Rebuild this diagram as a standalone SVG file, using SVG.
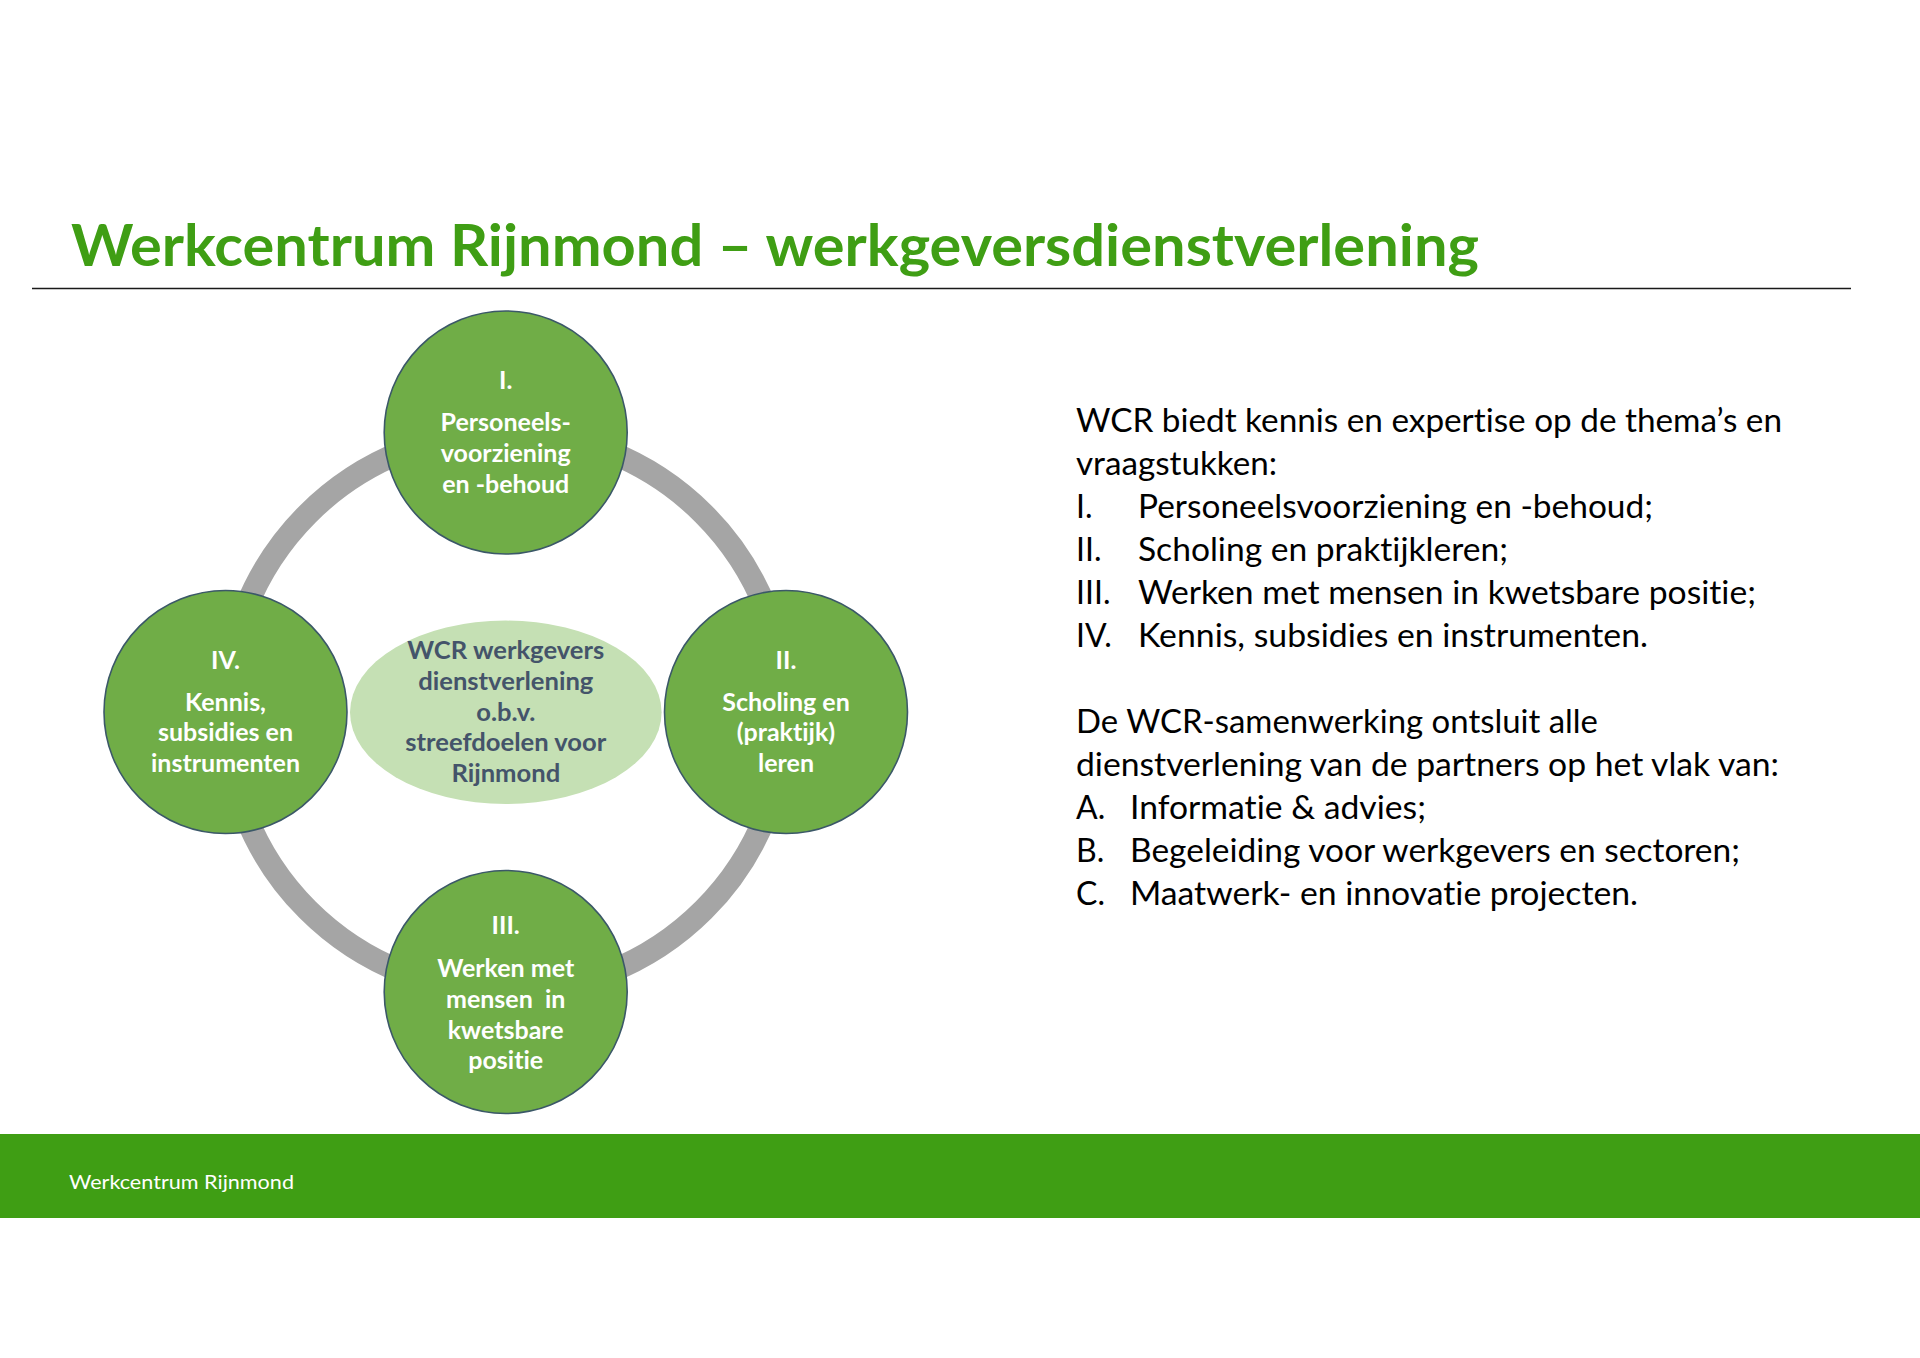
<svg xmlns="http://www.w3.org/2000/svg" width="1920" height="1358" viewBox="0 0 1920 1358">
<style>
text{font-variant-ligatures:none;font-feature-settings:"liga" 0,"clig" 0,"dlig" 0,"calt" 0}
.title{font-family:Lato,"Liberation Sans",sans-serif;font-weight:700;font-size:57px;fill:#3f9e14}
.node circle{fill:#70ad47;stroke:#3b5868;stroke-width:1.6}
.nt{font-family:Lato,"Liberation Sans",sans-serif;font-weight:700;font-size:25px;fill:#ffffff;text-anchor:middle}
.ct{font-family:Lato,"Liberation Sans",sans-serif;font-weight:700;font-size:25.6px;fill:#44546a;text-anchor:middle}
.body{font-family:Lato,"Liberation Sans",sans-serif;font-size:32px;fill:#000000}
.foot{font-family:Lato,"Liberation Sans",sans-serif;font-size:20px;fill:#ffffff}
</style>
<rect x="0" y="0" width="1920" height="1358" fill="#ffffff"/>
<text class="title" x="71" y="266" textLength="1408" lengthAdjust="spacingAndGlyphs">Werkcentrum Rijnmond – werkgeversdienstverlening</text>
<line x1="32" y1="288.5" x2="1851" y2="288.5" stroke="#1a1a1a" stroke-width="1.6"/>

<g id="connectors">
<circle cx="505.7" cy="712" r="280" fill="none" stroke="#a5a5a5" stroke-width="23"/>
</g>

<g id="center">
<ellipse cx="505.8" cy="712.3" rx="155.8" ry="91.7" fill="#c5e0b4"/>
<text class="ct" x="505.8" y="659.3">WCR werkgevers</text>
<text class="ct" x="505.8" y="690">dienstverlening</text>
<text class="ct" x="505.8" y="720.7">o.b.v.</text>
<text class="ct" x="505.8" y="751">streefdoelen voor</text>
<text class="ct" x="505.8" y="781.5">Rijnmond</text>
</g>

<g id="node-I" class="node">
<circle cx="505.7" cy="432.5" r="121.5"/>
<text class="nt" x="505.7" y="389">I.</text>
<text class="nt" x="505.7" y="431.3">Personeels-</text>
<text class="nt" x="505.7" y="462">voorziening</text>
<text class="nt" x="505.7" y="492.5">en -behoud</text>
</g>

<g id="node-II" class="node">
<circle cx="786" cy="712" r="121.5"/>
<text class="nt" x="786" y="668.5">II.</text>
<text class="nt" x="786" y="710.8">Scholing en</text>
<text class="nt" x="786" y="741.4">(praktijk)</text>
<text class="nt" x="786" y="772">leren</text>
</g>

<g id="node-III" class="node">
<circle cx="505.7" cy="992" r="121.5"/>
<text class="nt" x="505.7" y="934.4">III.</text>
<text class="nt" x="505.7" y="977.3">Werken met</text>
<text class="nt" x="505.7" y="1008" xml:space="preserve">mensen  in</text>
<text class="nt" x="505.7" y="1038.5">kwetsbare</text>
<text class="nt" x="505.7" y="1069">positie</text>
</g>

<g id="node-IV" class="node">
<circle cx="225.5" cy="712" r="121.5"/>
<text class="nt" x="225.5" y="668.5">IV.</text>
<text class="nt" x="225.5" y="710.8">Kennis,</text>
<text class="nt" x="225.5" y="741.4">subsidies en</text>
<text class="nt" x="225.5" y="772">instrumenten</text>
</g>

<g id="text-block">
<text class="body" x="1076" y="432" textLength="706" lengthAdjust="spacingAndGlyphs">WCR biedt kennis en expertise op de thema’s en</text>
<text class="body" x="1076" y="475" textLength="201" lengthAdjust="spacingAndGlyphs">vraagstukken:</text>
<text class="body" x="1076" y="518">I.</text>
<text class="body" x="1138" y="518" textLength="515" lengthAdjust="spacingAndGlyphs">Personeelsvoorziening en -behoud;</text>
<text class="body" x="1076" y="561">II.</text>
<text class="body" x="1138" y="561" textLength="370" lengthAdjust="spacingAndGlyphs">Scholing en praktijkleren;</text>
<text class="body" x="1076" y="604">III.</text>
<text class="body" x="1138" y="604" textLength="618" lengthAdjust="spacingAndGlyphs">Werken met mensen in kwetsbare positie;</text>
<text class="body" x="1076" y="647">IV.</text>
<text class="body" x="1138" y="647" textLength="510" lengthAdjust="spacingAndGlyphs">Kennis, subsidies en instrumenten.</text>
<text class="body" x="1076" y="733" textLength="522" lengthAdjust="spacingAndGlyphs">De WCR-samenwerking ontsluit alle</text>
<text class="body" x="1076" y="776" textLength="703" lengthAdjust="spacingAndGlyphs">dienstverlening van de partners op het vlak van:</text>
<text class="body" x="1076" y="819">A.</text>
<text class="body" x="1130" y="819" textLength="296" lengthAdjust="spacingAndGlyphs">Informatie &amp; advies;</text>
<text class="body" x="1076" y="862">B.</text>
<text class="body" x="1130" y="862" textLength="610" lengthAdjust="spacingAndGlyphs">Begeleiding voor werkgevers en sectoren;</text>
<text class="body" x="1076" y="905">C.</text>
<text class="body" x="1130" y="905" textLength="508" lengthAdjust="spacingAndGlyphs">Maatwerk- en innovatie projecten.</text>
</g>

<g id="footer">
<rect x="0" y="1134" width="1920" height="84" fill="#3f9e14"/>
<text class="foot" x="69" y="1189" textLength="225" lengthAdjust="spacingAndGlyphs">Werkcentrum Rijnmond</text>
</g>
</svg>
